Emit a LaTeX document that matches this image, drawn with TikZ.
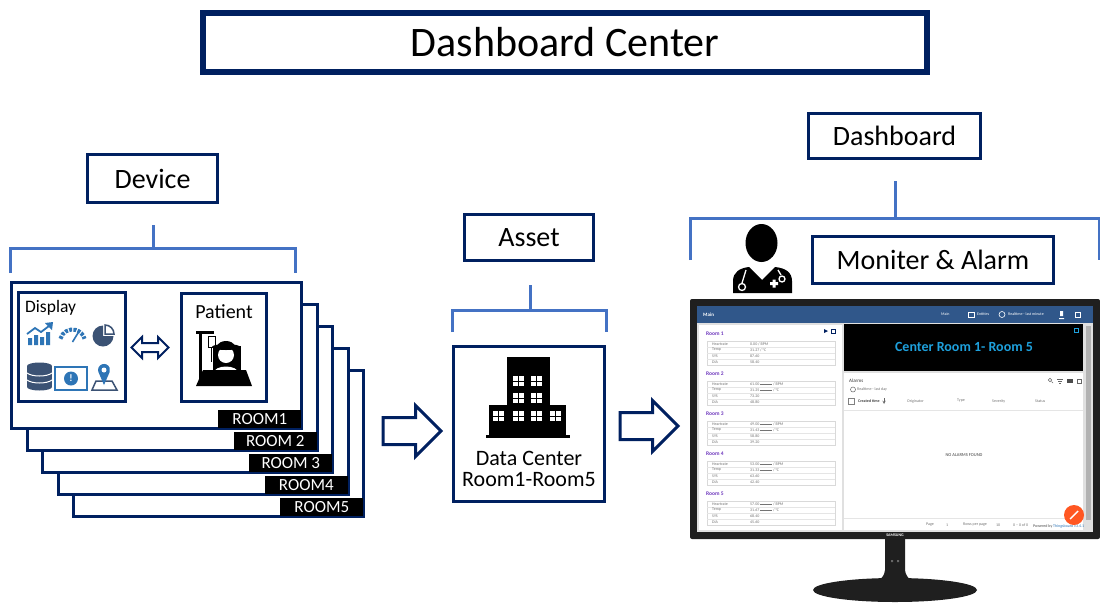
\documentclass[tikz,border=0pt]{standalone}
\usepackage{fontspec}
\setmainfont{Carlito}
\usetikzlibrary{positioning,shapes.arrows,calc}
\definecolor{navy}{RGB}{0,32,96}
\definecolor{brkblue}{RGB}{68,114,196}
\definecolor{iconblue}{RGB}{46,117,182}
\definecolor{iconslate}{RGB}{59,82,116}
\definecolor{barblue}{RGB}{48,87,138}
\definecolor{scrcyan}{RGB}{30,160,220}
\definecolor{roompurple}{RGB}{112,58,190}
\definecolor{fabred}{RGB}{255,87,34}
\tikzset{
  lbl/.style  = {draw=navy, line width=3pt, fill=white, inner sep=0pt,
    font=\fontsize{28}{28}\selectfont},
  brk/.style  = {draw=brkblue, line width=3pt},
  room/.style = {draw=navy, line width=3pt, fill=white, inner sep=0pt,
    minimum width=290pt, minimum height=146pt},
  tag/.style  = {fill=black, text=white, inner sep=0pt, minimum width=83pt,
    minimum height=18pt, font=\fontsize{17}{17}\selectfont},
  inbox/.style = {draw=navy, line width=3pt, fill=white, inner sep=0pt},
  harrow/.style = {single arrow, draw=navy, line width=3pt, fill=white,
    inner xsep=0pt, inner ysep=12pt, single arrow head extend=12pt,
    minimum height=58pt, anchor=tail},
  sm/.style   = {inner sep=0pt, anchor=west, text=black!55,
    font=\fontsize{4}{4}\selectfont},
}
% one window of the building: four white panes
\newcommand{\bwin}[2]{%
  \fill[white] (#1,#2) rectangle ++(11,10);
  \draw[black, line width=1pt] (#1+5.5,#2) -- ++(0,10) (#1,#2+5) -- ++(11,0);}
\newcommand{\dl}{\rule[1pt]{12pt}{0.3pt}\ }

\begin{document}
\begin{tikzpicture}[x=1pt, y=-1pt]
  \useasboundingbox (0,0) rectangle (1100,603);

  \node[lbl, line width=6pt, minimum width=724pt, minimum height=59pt,
    font=\fontsize{42}{42}\selectfont] (title) at (565,42.5) {Dashboard Center};

  % device column
  \node[lbl, minimum width=130pt, minimum height=48pt] (device) at (152.5,178.5) {Device};
  \coordinate (devtop) at (153,225);
  \coordinate (devmid) at (153,248);
  \draw[brk] (devtop) -- (devmid);
  \draw[brk] (10,273) -- (10,248) -- (295,248) -- (295,273);

  % stacked room cards, back to front
  \foreach \i/\t in {5/ROOM5,4/ROOM4,3/ROOM 3,2/ROOM 2,1/ROOM1}{
    \node[room] (room\i) at ({156.5+15.5*(\i-1)},{355.5+22*(\i-1)}) {};
    \node[tag, anchor=south east] (tag\i) at ([shift={(-1.5,-1.5)}]room\i.south east) {\t};
  }

  \node[inbox, minimum width=107pt, minimum height=109pt] (disp) at (72,347) {};
  \node[anchor=base west, inner sep=0pt, font=\fontsize{17.5}{17.5}\selectfont] (displbl) at (25,312) {Display};
  \node[inbox, minimum width=85pt, minimum height=108pt] (pat) at (224,347.5) {};
  \node[anchor=base, inner sep=0pt, font=\fontsize{20}{20}\selectfont] (patlbl) at (224,318) {Patient};
  \node[double arrow, draw=navy, line width=2pt, fill=white, inner xsep=0pt, inner ysep=3.5pt,
    double arrow head extend=6pt, minimum height=37pt] (link) at (150,347.5) {};

  % display icons
  \fill[iconblue] (28,338) rectangle (32,345) (34,335) rectangle (38,345)
    (40,337) rectangle (44,345) (46,332) rectangle (50,345);
  \draw[white, line width=3.5pt] (27,334) -- (35,328) -- (41,332) -- (49,326);
  \draw[iconblue, line width=1.8pt] (27,334) -- (35,328) -- (41,332) -- (49,326);
  \fill[iconblue] (53,322) -- (45,323) -- (52,330) -- cycle;
  \draw[iconblue, line width=4pt, dash pattern=on 3pt off 1.3pt] (60.4,338.8) arc[start angle=165, end angle=15, radius=12.5pt];
  \draw[iconblue, line width=1.6pt] (72.5,342) -- (78,333);
  \fill[iconslate] (103,336) -- ++(90:10.5pt) arc[start angle=90, end angle=360, radius=10.5pt] -- cycle;
  \draw[iconslate, fill=white, line width=1.5pt] (105,334) -- ++(90:9pt) arc[start angle=90, end angle=0, radius=9pt] -- cycle;
  \fill[iconslate] (27,366) rectangle (52,387);
  \fill[iconslate] (39.5,366) ellipse [x radius=12.5pt, y radius=3.5pt];
  \fill[iconslate] (39.5,387) ellipse [x radius=12.5pt, y radius=3.5pt];
  \draw[white, line width=1pt] (27,373) .. controls (32,377) and (47,377) .. (52,373);
  \draw[white, line width=1pt] (27,380) .. controls (32,384) and (47,384) .. (52,380);
  \draw[iconblue, line width=1.5pt] (55,367) rectangle (87,390);
  \fill[iconblue] (71,378.5) circle[radius=7pt];
  \node[text=white, inner sep=0pt, font=\bfseries\fontsize{10}{10}\selectfont] (alert) at (71,378.5) {!};
  \draw[iconslate, line width=1.5pt] (92,390) -- (96,381) -- (112,381) -- (117,390) -- cycle;
  \fill[iconblue] (104,385) -- (98.4,372) arc[start angle=200, end angle=-20, radius=6pt] -- cycle;
  \fill[white] (104,370) circle[radius=2.5pt];

  % patient in bed
  \fill (199,332) rectangle (202,386);
  \fill (196,331) rectangle (214,334);
  \draw[line width=1pt] (208,336) rectangle (215,347);
  \draw[line width=1pt] (211.5,347) -- (211.5,362);
  \fill (213,346) rectangle (241,372);
  \fill[white] (226,355) circle[radius=8pt];
  \fill (226,347) ellipse [x radius=14pt, y radius=3pt];
  \fill (217,347) .. controls (218,339) and (234,339) .. (235,347) -- cycle;
  \fill[white] (213,374) .. controls (214,364) and (238,364) .. (239,374) -- cycle;
  \fill (203,370) -- (246,370) -- (252,386) -- (196,386) -- cycle;

  % data center column
  \node[lbl, minimum width=129pt, minimum height=46pt] (asset) at (529,237.5) {Asset};
  \draw[brk] (530,285) -- (530,310);
  \draw[brk] (452,332) -- (452,310) -- (606,310) -- (606,332);
  \node[inbox, minimum width=151pt, minimum height=155pt] (dc) at (529,424) {};
  \fill (507,357) rectangle (550,406);
  \fill (489,405) rectangle (566,436);
  \fill (486,435) rectangle (570,438);
  \foreach \wx/\wy in {513/376,531/376,513/393,531/393,493/411,513/411,531/411,550/411}
    {\bwin{\wx}{\wy}}
  \node[anchor=base, inner sep=0pt, font=\fontsize{22}{22}\selectfont] (dcname) at (529,465) {Data Center};
  \node[anchor=base, inner sep=0pt, font=\fontsize{22}{22}\selectfont] (dcrange) at (529,486) {Room1-Room5};

  \node[harrow] (arrA) at (381.5,431) {};
  \node[harrow] (arrB) at (618.5,426) {};

  % dashboard column
  \node[lbl, minimum width=172pt, minimum height=45pt] (dash) at (894.5,136) {Dashboard};
  \draw[brk] (895,181) -- (895,218);
  \draw[brk] (690,260) -- (690,218) -- (1099,218) -- (1099,260);
  \node[lbl, minimum width=241pt, minimum height=47pt] (alarm) at (933,260) {Moniter \& Alarm};

  % doctor
  \fill (761.5,243) ellipse [x radius=16pt, y radius=19pt];
  \fill (733,293) -- (733,281) .. controls (733,272) and (740,268) .. (749,267) -- (762,280)
    -- (775,267) .. controls (785,268) and (792,272) .. (792,281) -- (792,293) -- cycle;
  \draw[white, line width=1.3pt] (746,270) -- (742,283);
  \draw[white, line width=1.3pt] (742,287) circle[radius=3.5pt];
  \draw[white, line width=1.3pt] (778,270) -- (781,275);
  \draw[white, line width=1.3pt] (782,279) circle[radius=3pt];
  \fill[white] (770,282) rectangle (778,285) (772.5,279.5) rectangle (775.5,287.5);

  % monitor
  \fill[black!88, rounded corners=2pt] (690,299) rectangle (1100,539);
  \fill[black!12] (697,306) rectangle (1093,532);
  \fill[barblue] (697,306) rectangle (1093,323);
  \fill[white] (699,325) rectangle (842,530);
  \fill[black] (844,324) rectangle (1083,371);
  \fill[white] (844,373) rectangle (1083,530);
  \fill[black!30] (1086,326) rectangle (1091,520);
  \node[sm, text=white, font=\bfseries\fontsize{5}{5}\selectfont] (tbmain) at (703,314.5) {Main};
  \node[sm, text=white] (tbdash) at (941,314.5) {Main};
  \draw[white, line width=0.6pt] (968,312) rectangle (974,317);
  \node[sm, text=white] (tbent) at (977,314.5) {Entities};
  \draw[white, line width=0.6pt] (1002,314.5) circle[radius=3pt];
  \node[sm, text=white] (tbtime) at (1008,314.5) {Realtime - last minute};
  \fill[white] (1060,311) rectangle (1063,316) (1059,318) rectangle (1064,319);
  \draw[white, line width=0.6pt] (1075,312) rectangle (1080,317);
  \fill[navy] (824,329) -- (828,331) -- (824,333) -- cycle;
  \draw[navy, line width=0.5pt] (831,329) rectangle (835,333);
  \foreach \k/\hr/\tp/\sy/\di/\dsh in {1/0.00/31.27/87.60/58.40/{},2/61.00/31.25/73.20/48.80/\dl,
      3/49.00/31.43/58.80/39.20/\dl,4/53.00/31.33/63.60/42.40/\dl,5/57.00/31.67/68.40/45.60/\dl}{
    \pgfmathsetmacro\ry{334+40*(\k-1)}
    \node[sm, text=roompurple, font=\bfseries\fontsize{5.5}{5.5}\selectfont] (rm\k) at (706,\ry) {Room \k};
    \draw[black!15, line width=0.6pt] (707,\ry+7) rectangle (835,\ry+31);
    \draw[black!10, line width=0.4pt] (707,\ry+13) -- (835,\ry+13) (707,\ry+19) -- (835,\ry+19)
      (707,\ry+25) -- (835,\ry+25);
    \node[sm] (hrn\k) at (712,\ry+10) {Heartrate};
    \node[sm] (hrv\k) at (750,\ry+10) {\hr\ \dsh/ BPM};
    \node[sm] (tpn\k) at (712,\ry+16) {Temp};
    \node[sm] (tpv\k) at (750,\ry+16) {\tp\ \dsh/ °C};
    \node[sm] (syn\k) at (712,\ry+22) {SYS};
    \node[sm] (syv\k) at (750,\ry+22) {\sy};
    \node[sm] (din\k) at (712,\ry+28) {DIA};
    \node[sm] (div\k) at (750,\ry+28) {\di};
  }
  \node[text=scrcyan, font=\bfseries\fontsize{14}{14}\selectfont] (hdr) at (964,347) {Center Room 1- Room 5};
  \draw[scrcyan, line width=0.5pt] (1074,328) rectangle (1078,332);
  \node[sm, text=black!80, font=\fontsize{5}{5}\selectfont] (alm) at (849,381) {Alarms};
  \draw[black!60, line width=0.5pt] (853,389.5) circle[radius=2.5pt];
  \node[sm] (almtime) at (857,389.5) {Realtime - last day};
  \draw[black!60, line width=0.5pt] (1050,380) circle[radius=1.8pt] (1051.5,381.5) -- (1053,383);
  \draw[black!60, line width=0.5pt] (1057,379) -- (1063,379) (1058,381) -- (1062,381) (1059,383) -- (1061,383);
  \fill[black!70] (1067,379) rectangle (1073,383);
  \draw[black!60, line width=0.5pt] (1077,379) rectangle (1081,383);
  \draw[black!50, line width=0.5pt] (848,398) rectangle (854,404);
  \node[sm, text=black!75, font=\bfseries\fontsize{4}{4}\selectfont] (colct) at (858,401) {Created time};
  \draw[black!60, line width=0.5pt, -stealth] (884,398) -- (884,404);
  \node[sm] (color) at (907,401) {Originator};
  \node[sm] (colty) at (957,401) {Type};
  \node[sm] (colsv) at (992,401) {Severity};
  \node[sm] (colst) at (1035,401) {Status};
  \draw[black!10, line width=0.5pt] (844,410) -- (1083,410);
  \node[text=black!75, inner sep=0pt, font=\fontsize{4.5}{4.5}\selectfont] (noalm) at (964,455) {NO ALARMS FOUND};
  \draw[black!10, line width=0.5pt] (844,518) -- (1083,518);
  \node[sm] (pg) at (926,525) {Page};
  \node[sm] (pgn) at (946,525) {1};
  \node[sm] (rpp) at (963,525) {Rows per page};
  \node[sm] (rppn) at (996,525) {10};
  \node[sm] (cnt) at (1013,525) {0 -- 0 of 0};
  \node[sm, text=black!70] (pwr) at (1033,526) {Powered by};
  \node[sm, text=iconblue] (tb) at (1053,526) {Thingsboard v3.4.1};
  \fill[fabred] (1074,515) circle[radius=10pt];
  \draw[white, line width=1.4pt] (1070,519) -- (1078,511);
  \node[text=white, inner sep=0pt, font=\bfseries\fontsize{4}{4}\selectfont] (brand) at (895,535.5) {SAMSUNG};

  % stand
  \fill[black!88] (885,539) -- (905,539) -- (905,570) .. controls (906,580) and (915,583) .. (925,585)
    -- (865,585) .. controls (875,583) and (884,580) .. (885,570) -- cycle;
  \fill[black!88] (895,590) ellipse [x radius=82pt, y radius=12pt];
  \fill[black!60] (891,560) rectangle (893,562) (897,560) rectangle (899,562);
\end{tikzpicture}
\end{document}
